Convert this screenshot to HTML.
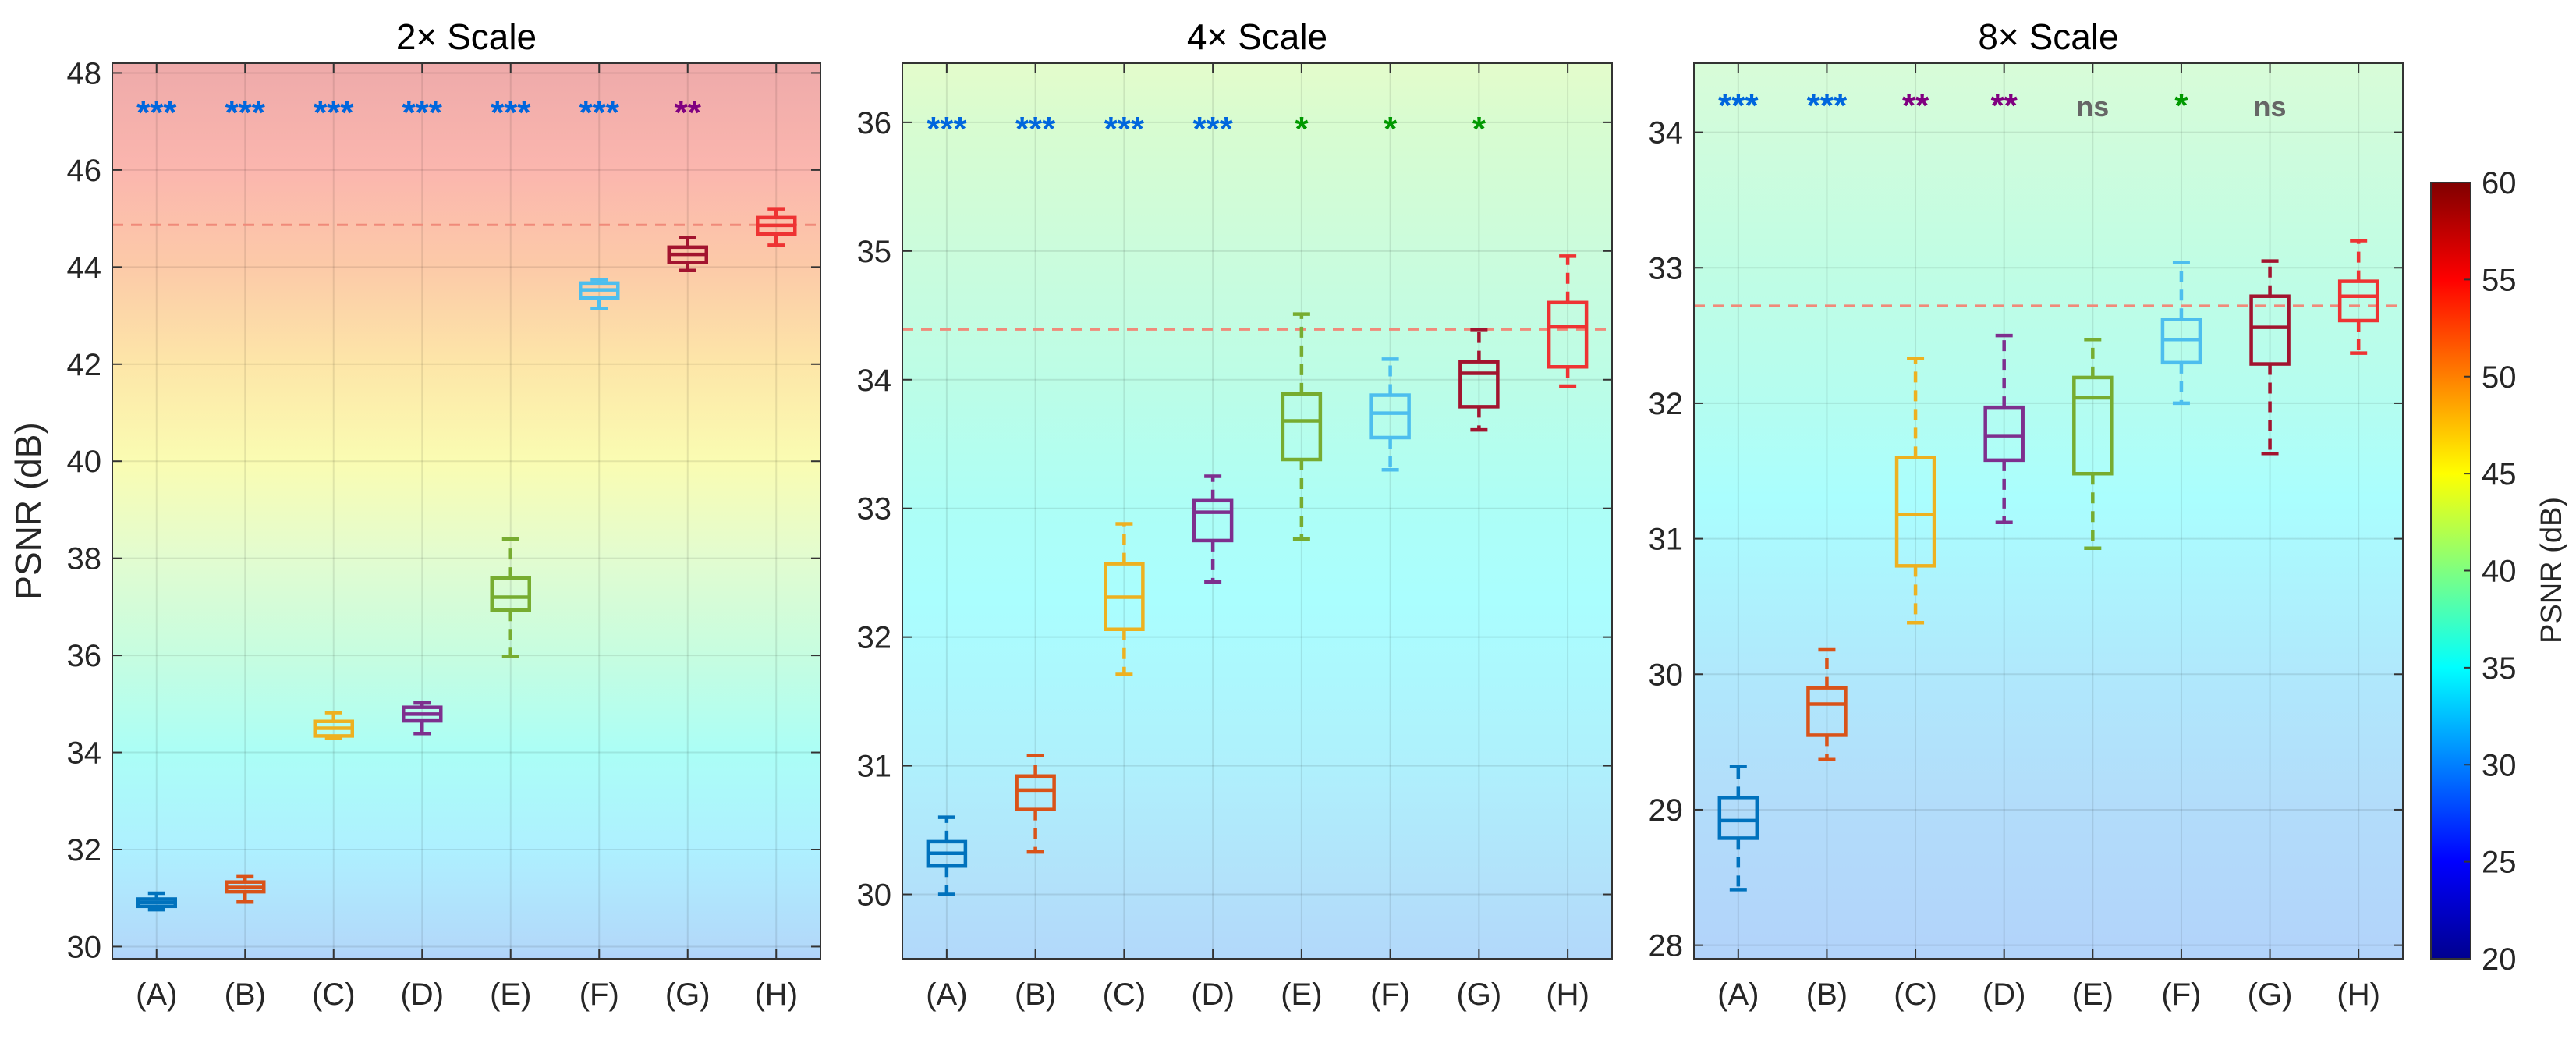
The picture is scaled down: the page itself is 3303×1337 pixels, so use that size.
<!DOCTYPE html>
<html><head><meta charset="utf-8"><style>
html,body{margin:0;padding:0;background:#fff}
svg text{font-family:"Liberation Sans",Arial,sans-serif}
</style></head><body>
<svg id="chart" width="3303" height="1332" viewBox="0 0 3303 1332" xmlns="http://www.w3.org/2000/svg">
<defs id="defs"></defs>
<g id="root"></g>
</svg>
<script>
const categories = ["(A)","(B)","(C)","(D)","(E)","(F)","(G)","(H)"];
const boxColors = ["#0072BD","#D95319","#EDB120","#7E2F8E","#77AC30","#4DBEEE","#A2142F","#EE3333"];
// [low whisker, q1, median, q3, high whisker]
const scale2Boxes = [[30.76,30.83,30.91,30.98,31.1],[30.92,31.13,31.22,31.33,31.44],[34.3,34.34,34.5,34.64,34.82],[34.39,34.65,34.79,34.93,35.02],[35.98,36.93,37.2,37.59,38.4],[43.15,43.36,43.53,43.67,43.74],[43.93,44.09,44.26,44.41,44.61],[44.45,44.68,44.86,45.02,45.2]];
const scale4Boxes = [[30.0,30.22,30.32,30.41,30.6],[30.33,30.66,30.81,30.92,31.08],[31.71,32.06,32.31,32.57,32.88],[32.43,32.75,32.97,33.06,33.25],[32.76,33.38,33.68,33.89,34.51],[33.3,33.55,33.74,33.88,34.16],[33.61,33.79,34.05,34.14,34.39],[33.95,34.1,34.41,34.6,34.96]];
const scale8Boxes = [[28.41,28.79,28.92,29.09,29.32],[29.37,29.55,29.78,29.9,30.18],[30.38,30.8,31.18,31.6,32.33],[31.12,31.58,31.76,31.97,32.5],[30.93,31.48,32.04,32.19,32.47],[32.0,32.3,32.47,32.62,33.04],[31.63,32.29,32.56,32.79,33.05],[32.37,32.61,32.79,32.9,33.2]];
const scale2Sig = ["***","***","***","***","***","***","**",""];
const scale4Sig = ["***","***","***","***","*","*","*",""];
const scale8Sig = ["***","***","**","**","ns","*","ns",""];
const refLines = [44.87, 34.39, 32.72];
const scale2Ticks = [30,32,34,36,38,40,42,44,46,48];
const scale4Ticks = [30,31,32,33,34,35,36];
const scale8Ticks = [28,29,30,31,32,33,34];
const colorbarTicks = [20,25,30,35,40,45,50,55,60];
const titles = ["2× Scale","4× Scale","8× Scale"];

const NS="http://www.w3.org/2000/svg";
const root=document.getElementById('root');
const defs=document.getElementById('defs');
function mk(tag,attrs,parent){const e=document.createElementNS(NS,tag);for(const k in attrs)e.setAttribute(k,attrs[k]);(parent||root).appendChild(e);return e;}

function sigColor(s){return s==="***"?"#0066DD":s==="**"?"#800080":s==="*"?"#009900":"#666666";}

const panels=[
 {x0:144,x1:1052,y0:81,y1:1229,ymin:29.75,ymax:48.2,boxes:scale2Boxes,sig:scale2Sig,ticks:scale2Ticks,sigY:137,
  bg:[[27,'#b0d2fa'],[30,'#b2d9fa'],[32,'#aef0ff'],[34,'#abfef6'],[36,'#c6fde0'],[38,'#e2fcd0'],[40,'#fafcb2'],[42,'#fde6a8'],[44,'#fccaa8'],[46,'#fbb6ae'],[48.5,'#eeaaaa']]},
 {x0:1157,x1:2067,y0:81,y1:1229,ymin:29.5,ymax:36.46,boxes:scale4Boxes,sig:scale4Sig,ticks:scale4Ticks,sigY:158,
  bg:[[29.5,'#b2d8fa'],[30,'#b2e0fa'],[31,'#aff0fc'],[32.3,'#aafefe'],[33,'#adfef6'],[34,'#bcfde6'],[35,'#cbfcdc'],[36,'#d8fcd0'],[36.5,'#e4fccb']]},
 {x0:2172,x1:3081,y0:81,y1:1229,ymin:27.9,ymax:34.51,boxes:scale8Boxes,sig:scale8Sig,ticks:scale8Ticks,sigY:128,
  bg:[[27.9,'#b2d2fa'],[28,'#b2d4fa'],[29,'#b2dcfa'],[30,'#b0e8fc'],[31.3,'#aafefe'],[32,'#b4fdf0'],[33,'#c0fde4'],[34.5,'#d8fcd8']]},
];

panels.forEach((p,pi)=>{
 const ys=v=>p.y1-(v-p.ymin)/(p.ymax-p.ymin)*(p.y1-p.y0);
 const xs=i=>p.x0+(i+0.5)*(p.x1-p.x0)/categories.length;
 const g=mk('g',{});
 
 
 const gid='bg'+pi;
 const lg=mk('linearGradient',{id:gid,gradientUnits:'userSpaceOnUse',x1:0,x2:0,y1:p.y1,y2:p.y0},defs);
 p.bg.forEach(s=>{const off=(s[0]-p.ymin)/(p.ymax-p.ymin);if(off<-0.3||off>1.3)return;mk('stop',{offset:off,'stop-color':s[1]},lg);});
 const bg=mk('rect',{x:p.x0,y:p.y0,width:p.x1-p.x0,height:p.y1-p.y0,fill:'url(#'+gid+')'},g);
 
 
 p.ticks.forEach(t=>{
  const y=ys(t);
  mk('line',{x1:p.x0,x2:p.x1,y1:y,y2:y,stroke:'rgba(0,0,0,0.09)','stroke-width':2},g);
  mk('line',{x1:p.x0,x2:p.x0+12,y1:y,y2:y,stroke:'#333','stroke-width':2},g);
  mk('line',{x1:p.x1,x2:p.x1-12,y1:y,y2:y,stroke:'#333','stroke-width':2},g);
  const tl=mk('text',{x:p.x0-14,y:y+14,'text-anchor':'end','font-size':40,fill:'#262626'},g);
  tl.textContent=t;
  
  
 });
 categories.forEach((c,i)=>{
  const x=xs(i);
  mk('line',{x1:x,x2:x,y1:p.y0,y2:p.y1,stroke:'rgba(0,0,0,0.09)','stroke-width':2},g);
  mk('line',{x1:x,x2:x,y1:p.y1,y2:p.y1-12,stroke:'#333','stroke-width':2},g);
  mk('line',{x1:x,x2:x,y1:p.y0,y2:p.y0+12,stroke:'#333','stroke-width':2},g);
  const tl=mk('text',{x:x,y:1288,'text-anchor':'middle','font-size':40,fill:'#262626'},g);
  tl.textContent=c;
  
  
 });
 const ry=ys(refLines[pi]);
 const rl=mk('line',{x1:p.x0,x2:p.x1,y1:ry,y2:ry,stroke:'#F08A7A','stroke-width':3,'stroke-dasharray':'14,10'},g);
 
 
 p.boxes.forEach((b,i)=>{
  const x=xs(i),col=boxColors[i],hw=24,cw=11;
  const bx=mk('g',{stroke:col,'stroke-width':4.5,fill:'none'},g);
  
  
  mk('line',{x1:x,x2:x,y1:ys(b[3]),y2:ys(b[4]),'stroke-dasharray':'14,10'},bx);
  mk('line',{x1:x,x2:x,y1:ys(b[1]),y2:ys(b[0]),'stroke-dasharray':'14,10'},bx);
  mk('line',{x1:x-cw,x2:x+cw,y1:ys(b[4]),y2:ys(b[4])},bx);
  mk('line',{x1:x-cw,x2:x+cw,y1:ys(b[0]),y2:ys(b[0])},bx);
  mk('rect',{x:x-hw,y:ys(b[3]),width:2*hw,height:Math.max(1,ys(b[1])-ys(b[3]))},bx);
  mk('line',{x1:x-hw,x2:x+hw,y1:ys(b[2]),y2:ys(b[2])},bx);
 });
 p.sig.forEach((s,i)=>{
  if(!s)return;
  const isNs=s==="ns";
  const t=mk('text',{x:xs(i),y:isNs?p.sigY+21:p.sigY+22,'text-anchor':'middle','font-size':isNs?36:44,'font-weight':'bold',fill:sigColor(s)},g);
  t.textContent=s;
  
  
 });
 const fr=mk('rect',{x:p.x0,y:p.y0,width:p.x1-p.x0,height:p.y1-p.y0,fill:'none',stroke:'#333','stroke-width':2},g);
 
 
 const tt=mk('text',{x:(p.x0+p.x1)/2,y:63,'text-anchor':'middle','font-size':46,fill:'#000'},g);
 tt.textContent=titles[pi];
 
 
});

const yl=mk('text',{x:0,y:0,transform:'translate(52,655) rotate(-90)','text-anchor':'middle','font-size':46,fill:'#262626'});
yl.textContent='PSNR (dB)';



const cb={x:3117,w:51,y0:234,y1:1229,min:20,max:60};
const cg=mk('linearGradient',{id:'jet',x1:0,x2:0,y1:1,y2:0},defs);
[[0,'#00008F'],[0.125,'#0000FF'],[0.375,'#00FFFF'],[0.625,'#FFFF00'],[0.875,'#FF0000'],[1,'#800000']].forEach(s=>mk('stop',{offset:s[0],'stop-color':s[1]},cg));
const cbr=mk('rect',{x:cb.x,y:cb.y0,width:cb.w,height:cb.y1-cb.y0,fill:'url(#jet)',stroke:'#333','stroke-width':2});


colorbarTicks.forEach(t=>{
 const y=cb.y1-(t-cb.min)/(cb.max-cb.min)*(cb.y1-cb.y0);
 mk('line',{x1:cb.x+cb.w,x2:cb.x+cb.w-9,y1:y,y2:y,stroke:'#333','stroke-width':2});
 const tl=mk('text',{x:cb.x+cb.w+14,y:y+14,'font-size':40,fill:'#262626'});
 tl.textContent=t;
 
 
});
const cl=mk('text',{x:0,y:0,transform:'translate(3284,731) rotate(-90)','text-anchor':'middle','font-size':38,fill:'#262626'});
cl.textContent='PSNR (dB)';


</script>
</body></html>
